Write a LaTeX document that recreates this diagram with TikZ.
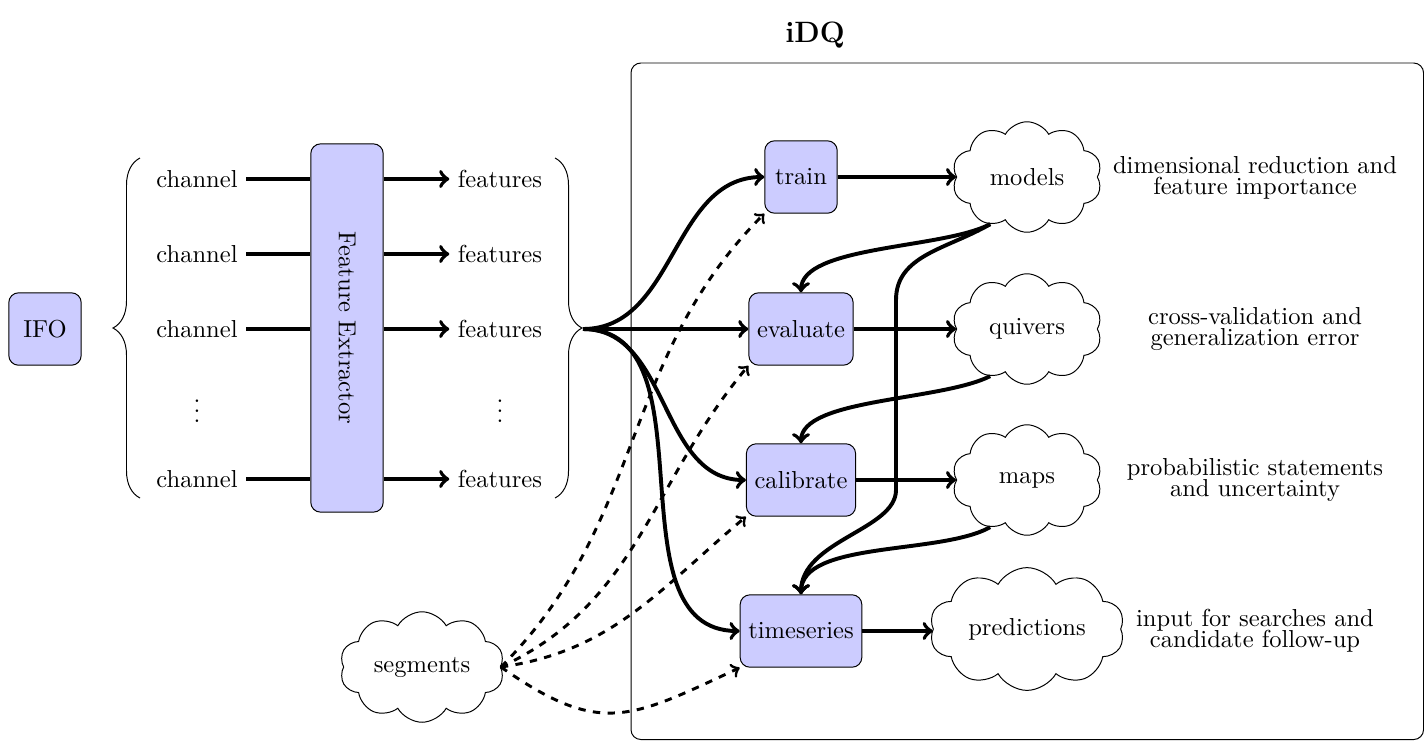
\documentclass[tikz,border=0pt]{standalone}
\usetikzlibrary{shapes.symbols,decorations.pathreplacing}
\begin{document}
\begin{tikzpicture}[x=0.4073pt,y=0.4073pt,
  proc/.style={draw, fill=blue!20, rounded corners=4pt, minimum width=29.5pt, minimum height=29.5pt, inner sep=3.33pt},
  puff/.style={cloud, draw, cloud puffs=10, cloud puff arc=120, cloud ignores aspect, inner sep=0pt},
  flow/.style={->, ultra thick},
  link/.style={ultra thick},
  feed/.style={->, very thick, dashed},
  note/.style={align=center},
  curly/.style={decorate, decoration={brace, amplitude=11pt}},
]
\useasboundingbox (0,0) rectangle (1424,-740);

% iDQ frame and its title
\draw[rounded corners=4pt] (631,-63) rectangle (1423.5,-739.5);
\node[font=\large\bfseries] (title) at (815,-35) {iDQ};

% interferometer and its channels
\node[proc] (ifo) at (45,-329) {IFO};
\draw[curly] (140,-498) -- (140,-158);

\node (c1) at (197,-179) {channel};
\node (c2) at (197,-254) {channel};
\node (c3) at (197,-329) {channel};
\node (cv) at (197,-404) {$\vdots$};
\node (c4) at (197,-479) {channel};

\node[proc, minimum height=150pt] (fe) at (347,-328) {\rotatebox{-90}{Feature Extractor}};

\foreach \c in {c1,c2,c3,c4}
  \draw[link] (\c.east) -- (\c.east -| fe.west);

\node (f1) at (500,-179) {features};
\node (f2) at (500,-254) {features};
\node (f3) at (500,-329) {features};
\node (fv) at (500,-404) {$\vdots$};
\node (f4) at (500,-479) {features};

\foreach \f in {f1,f2,f3,f4}
  \draw[flow] (\f.west -| fe.east) -- (\f.west);

\draw[curly] (555,-158) -- (555,-498);
\coordinate (hub) at (583,-329);

% processing stages
\node[proc] (train) at (801,-177) {train};
\node[proc] (evaluate) at (801,-329) {evaluate};
\node[proc] (calibrate) at (801,-480) {calibrate};
\node[proc] (timeseries) at (801,-631) {timeseries};

\draw[flow] (hub) to[out=0,in=180] (train.west);
\draw[flow] (hub) -- (evaluate.west);
\draw[flow] (hub) to[out=0,in=180] (calibrate.west);
\draw[flow] (hub) to[out=0,in=180] (timeseries.west);

% products
\node[puff, minimum width=61pt, minimum height=45pt] (models) at (1027,-177) {models};
\node[puff, minimum width=61pt, minimum height=45pt] (quivers) at (1027,-329) {quivers};
\node[puff, minimum width=61pt, minimum height=45pt] (maps) at (1027,-480) {maps};
\node[puff, minimum width=79.4pt, minimum height=50pt] (predictions) at (1027,-629) {predictions};

\draw[flow] (train.east) -- (train.east -| models.west);
\draw[flow] (evaluate.east) -- (evaluate.east -| quivers.west);
\draw[flow] (calibrate.east) -- (calibrate.east -| maps.west);
\draw[flow] (timeseries.east) -- (timeseries.east -| predictions.west);

\node[note] (n1) at (1255,-178) {dimensional reduction and\\[-3.4pt]feature importance};
\node[note] (n2) at (1255,-329) {cross-validation and\\[-3.4pt]generalization error};
\node[note] (n3) at (1255,-480) {probabilistic statements\\[-3.4pt]and uncertainty};
\node[note] (n4) at (1255,-631) {input for searches and\\[-3.4pt]candidate follow-up};

% feedback of products into later stages
\coordinate (bendtop) at (896,-300);
\coordinate (bendlow) at (896,-490);
\draw[flow] (models.-128) .. controls +(-48,-25) and +(0,47) .. (evaluate.north);
\draw[flow] (models.-128) .. controls +(-43,-25) and +(0,45) .. (bendtop)
  -- (bendlow) .. controls +(0,-40) and +(0,54) .. (timeseries.north);
\draw[flow] (quivers.-128) .. controls +(-50,-25) and +(0,45) .. (calibrate.north);
\draw[flow] (maps.-128) .. controls +(-50,-28) and +(0,54) .. (timeseries.north);

% segments
\node[puff, minimum width=67pt, minimum height=45pt] (segments) at (422,-667) {segments};
\draw[feed] (segments.east) to[out=45,in=225] (train.south west);
\draw[feed] (segments.east) to[out=25,in=230] (evaluate.south west);
\draw[feed] (segments.east) to[out=8,in=220] (calibrate.south west);
\draw[feed] (segments.east) to[out=-35,in=205,looseness=1.3] (timeseries.south west);
\end{tikzpicture}
\end{document}
